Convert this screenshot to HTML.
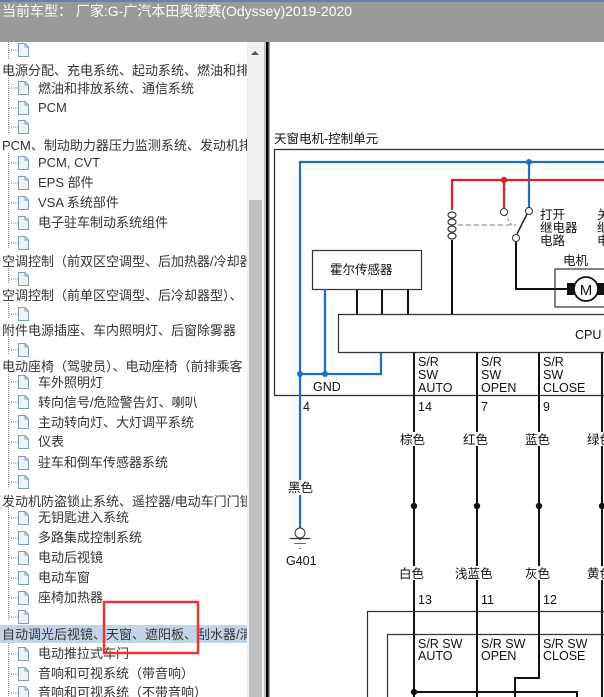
<!DOCTYPE html>
<html><head><meta charset="utf-8"><style>
html,body{margin:0;padding:0;width:604px;height:697px;overflow:hidden;background:#fff;}
svg{display:block;font-family:"Liberation Sans","Noto Sans CJK SC",sans-serif;}
.t{font-size:13px;fill:#333;}
.d{font-size:12.5px;fill:#111;}
</style></head><body>
<svg width="604" height="697" viewBox="0 0 604 697" xmlns="http://www.w3.org/2000/svg">
<defs>
<g id="ic"><path d="M0.5,0.5 H7 L10.5,4 V13.5 H0.5 Z" fill="#eef3fb" stroke="#7f9db9" stroke-width="1"/><path d="M7,0.5 V4 H10.5" fill="none" stroke="#7f9db9"/></g>
</defs>
<rect x="0" y="0" width="604" height="42" fill="#9a9a9a"/>
<rect x="0" y="0" width="604" height="2" fill="#6b7fa8"/>
<text x="2" y="16" font-size="14" fill="#fff">当前车型： 厂家:G-广汽本田奥德赛(Odyssey)2019-2020</text>
<rect x="0" y="42" width="247" height="655" fill="#fff"/>
<rect x="0" y="625" width="247" height="18" fill="#c2d3ea"/>
<g stroke="#888" stroke-dasharray="1,1">
<line x1="8.5" y1="42" x2="8.5" y2="60"/>
<line x1="8.5" y1="78" x2="8.5" y2="133"/>
<line x1="8.5" y1="153" x2="8.5" y2="248"/>
<line x1="8.5" y1="268" x2="8.5" y2="283"/>
<line x1="8.5" y1="303" x2="8.5" y2="318"/>
<line x1="8.5" y1="337" x2="8.5" y2="354"/>
<line x1="8.5" y1="374" x2="8.5" y2="487"/>
<line x1="8.5" y1="507" x2="8.5" y2="620"/>
<line x1="8.5" y1="643" x2="8.5" y2="697"/>
</g>
<g stroke="#888" stroke-dasharray="1,1">
<line x1="9" y1="50" x2="18" y2="50"/><line x1="9" y1="88" x2="18" y2="88"/><line x1="9" y1="108" x2="18" y2="108"/><line x1="9" y1="127" x2="18" y2="127"/>
<line x1="9" y1="163" x2="18" y2="163"/><line x1="9" y1="183" x2="18" y2="183"/><line x1="9" y1="203" x2="18" y2="203"/><line x1="9" y1="223" x2="18" y2="223"/><line x1="9" y1="243" x2="18" y2="243"/>
<line x1="9" y1="279" x2="18" y2="279"/><line x1="9" y1="314" x2="18" y2="314"/><line x1="9" y1="350" x2="18" y2="350"/>
<line x1="9" y1="382" x2="18" y2="382"/><line x1="9" y1="402" x2="18" y2="402"/><line x1="9" y1="422" x2="18" y2="422"/><line x1="9" y1="442" x2="18" y2="442"/><line x1="9" y1="463" x2="18" y2="463"/><line x1="9" y1="482" x2="18" y2="482"/>
<line x1="9" y1="518" x2="18" y2="518"/><line x1="9" y1="538" x2="18" y2="538"/><line x1="9" y1="558" x2="18" y2="558"/><line x1="9" y1="578" x2="18" y2="578"/><line x1="9" y1="598" x2="18" y2="598"/><line x1="9" y1="617" x2="18" y2="617"/>
<line x1="9" y1="654" x2="18" y2="654"/><line x1="9" y1="674" x2="18" y2="674"/><line x1="9" y1="693" x2="18" y2="693"/>
</g>
<g>
<use href="#ic" x="18" y="43"/><use href="#ic" x="18" y="81"/><use href="#ic" x="18" y="101"/><use href="#ic" x="18" y="120"/>
<use href="#ic" x="18" y="156"/><use href="#ic" x="18" y="176"/><use href="#ic" x="18" y="196"/><use href="#ic" x="18" y="216"/><use href="#ic" x="18" y="236"/>
<use href="#ic" x="18" y="272"/><use href="#ic" x="18" y="307"/><use href="#ic" x="18" y="343"/>
<use href="#ic" x="18" y="375"/><use href="#ic" x="18" y="395"/><use href="#ic" x="18" y="415"/><use href="#ic" x="18" y="435"/><use href="#ic" x="18" y="456"/><use href="#ic" x="18" y="475"/>
<use href="#ic" x="18" y="511"/><use href="#ic" x="18" y="531"/><use href="#ic" x="18" y="551"/><use href="#ic" x="18" y="571"/><use href="#ic" x="18" y="591"/><use href="#ic" x="18" y="610"/>
<use href="#ic" x="18" y="647"/><use href="#ic" x="18" y="667"/><use href="#ic" x="18" y="686"/>
</g>
<g class="t">
<text x="2" y="75">电源分配、充电系统、起动系统、燃油和排放</text>
<text x="38" y="93">燃油和排放系统、通信系统</text>
<text x="38" y="112">PCM</text>
<text x="2" y="150">PCM、制动助力器压力监测系统、发动机排放</text>
<text x="38" y="167">PCM, CVT</text>
<text x="38" y="187">EPS 部件</text>
<text x="38" y="207">VSA 系统部件</text>
<text x="38" y="227">电子驻车制动系统组件</text>
<text x="2" y="266">空调控制（前双区空调型、后加热器/冷却器型</text>
<text x="2" y="300">空调控制（前单区空调型、后冷却器型）、</text>
<text x="2" y="335">附件电源插座、车内照明灯、后窗除雾器</text>
<text x="2" y="371">电动座椅（驾驶员）、电动座椅（前排乘客</text>
<text x="38" y="387">车外照明灯</text>
<text x="38" y="407">转向信号/危险警告灯、喇叭</text>
<text x="38" y="427">主动转向灯、大灯调平系统</text>
<text x="38" y="446">仪表</text>
<text x="38" y="467">驻车和倒车传感器系统</text>
<text x="2" y="506">发动机防盗锁止系统、遥控器/电动车门门锁</text>
<text x="38" y="522">无钥匙进入系统</text>
<text x="38" y="542">多路集成控制系统</text>
<text x="38" y="562">电动后视镜</text>
<text x="38" y="582">电动车窗</text>
<text x="38" y="602">座椅加热器</text>
<text x="2" y="639">自动调光后视镜、天窗、遮阳板、刮水器/清洗器</text>
<text x="38" y="658">电动推拉式车门</text>
<text x="38" y="678">音响和可视系统（带音响）</text>
<text x="38" y="697">音响和可视系统（不带音响）</text>
</g>
<rect x="104" y="602" width="94" height="51" fill="none" stroke="#ee3333" stroke-width="2.5"/>
<rect x="247" y="42" width="17" height="655" fill="#f0f0f0"/>
<rect x="249" y="200" width="13" height="497" fill="#c1c1c1"/>
<path d="M251,55 L255,51 L259,55 Z" fill="#555"/>
<rect x="264" y="42" width="2" height="655" fill="#bfbfbf"/>
<rect x="266" y="42" width="2.5" height="655" fill="#000"/>
<rect x="268.5" y="42" width="1.5" height="655" fill="#a0a0a0"/>
<rect x="270" y="42" width="334" height="655" fill="#fff"/>
<text x="274" y="143" class="d" font-size="13">天窗电机-控制单元</text>
<rect x="274.5" y="149.5" width="340" height="246" fill="none" stroke="#333" stroke-width="1.3"/>
<g stroke="#1f6fbf" stroke-width="2.2" fill="none">
<polyline points="300,540 300,162 604,162"/>
<line x1="529" y1="162" x2="529" y2="208"/>
<polyline points="325,289 325,374 300,374"/>
<polyline points="381,352 381,374 325,374"/>
</g>
<circle cx="529" cy="162" r="3" fill="#1f6fbf"/>
<circle cx="300" cy="374" r="3" fill="#1f6fbf"/>
<circle cx="325" cy="374" r="3" fill="#1f6fbf"/>
<g stroke="#e01f2a" stroke-width="2.2" fill="none">
<polyline points="452,210 452,180 604,180"/>
<line x1="504" y1="180" x2="504" y2="208"/>
</g>
<circle cx="504" cy="180" r="3.2" fill="#e01f2a"/>
<g fill="none" stroke="#333" stroke-width="1.2">
<ellipse cx="452" cy="215" rx="4" ry="3"/><ellipse cx="452" cy="222" rx="4" ry="3"/><ellipse cx="452" cy="229" rx="4" ry="3"/><ellipse cx="452" cy="236" rx="4" ry="3"/>
</g>
<line x1="458" y1="225" x2="516" y2="225" stroke="#999" stroke-width="1.2" stroke-dasharray="5,3"/>
<line x1="505" y1="214" x2="512" y2="226" stroke="#999" stroke-width="1.2" stroke-dasharray="3,2"/>
<line x1="452" y1="240" x2="452" y2="314" stroke="#111" stroke-width="2"/>
<circle cx="504" cy="212" r="3.5" fill="#fff" stroke="#333"/>
<circle cx="529" cy="211" r="3.5" fill="#fff" stroke="#333"/>
<circle cx="516" cy="238" r="3.5" fill="#fff" stroke="#333"/>
<line x1="517" y1="234" x2="527" y2="214" stroke="#222" stroke-width="1.5"/>
<polyline points="516,242 516,289 568,289" fill="none" stroke="#111" stroke-width="2"/>
<text x="540" y="219" class="d">打开</text><text x="540" y="232" class="d">继电器</text><text x="540" y="245" class="d">电路</text>
<text x="597" y="219" class="d">关</text><text x="597" y="232" class="d">继</text><text x="597" y="245" class="d">电</text>
<text x="563" y="265" class="d">电机</text>
<rect x="555" y="269" width="60" height="38" fill="none" stroke="#333" stroke-width="1.2"/>
<rect x="567" y="283" width="8" height="12" fill="#111"/>
<rect x="597" y="283" width="8" height="12" fill="#111"/>
<circle cx="586" cy="289" r="12" fill="#fff" stroke="#111" stroke-width="1.8"/>
<text x="586" y="295" text-anchor="middle" font-size="15" fill="#111">M</text>
<rect x="312.5" y="250.5" width="109" height="39" fill="#fff" stroke="#333" stroke-width="1.2"/>
<text x="330" y="274" class="d">霍尔传感器</text>
<g stroke="#111" stroke-width="2"><line x1="357" y1="290" x2="357" y2="314"/><line x1="382" y1="290" x2="382" y2="314"/><line x1="408" y1="290" x2="408" y2="314"/></g>
<line x1="325" y1="289" x2="325" y2="374" stroke="#1f6fbf" stroke-width="2.2"/>
<polyline points="338.5,352 338.5,314.5 604,314.5" fill="none" stroke="#333" stroke-width="1.2"/>
<line x1="338" y1="352.5" x2="604" y2="352.5" stroke="#333" stroke-width="1.2"/>
<text x="575" y="339" class="d" font-size="13">CPU</text>
<text x="313" y="391" class="d">GND</text>
<g class="d">
<text x="418" y="366">S/R</text><text x="418" y="379">SW</text><text x="418" y="392">AUTO</text>
<text x="481" y="366">S/R</text><text x="481" y="379">SW</text><text x="481" y="392">OPEN</text>
<text x="543" y="366">S/R</text><text x="543" y="379">SW</text><text x="543" y="392">CLOSE</text>
<text x="303" y="411">4</text><text x="418" y="411">14</text><text x="481" y="411">7</text><text x="543" y="411">9</text>
</g>
<g stroke="#111" stroke-width="2">
<line x1="414" y1="352" x2="414" y2="697"/>
<line x1="477" y1="352" x2="477" y2="697"/>
<polyline points="539,352 539,678 515,678 515,697" fill="none"/>
<line x1="602" y1="352" x2="602" y2="697"/>
<polyline points="414,692 577,692 577,697" fill="none"/>
</g>
<g fill="#111"><circle cx="414" cy="506" r="3.2"/><circle cx="477" cy="506" r="3.2"/><circle cx="539" cy="506" r="3.2"/><circle cx="602" cy="506" r="3.2"/><circle cx="414" cy="692" r="3.2"/></g>
<g fill="#fff"><rect x="398" y="432" width="30" height="14"/><rect x="462" y="432" width="30" height="14"/><rect x="524" y="432" width="30" height="14"/><rect x="586" y="432" width="20" height="14"/>
<rect x="397" y="566" width="30" height="14"/><rect x="454" y="566" width="42" height="14"/><rect x="524" y="566" width="30" height="14"/><rect x="586" y="566" width="20" height="14"/>
<rect x="286" y="480" width="30" height="15"/></g>
<g class="d">
<text x="400" y="444">棕色</text><text x="463" y="444">红色</text><text x="525" y="444">蓝色</text><text x="587" y="444">绿色</text>
<text x="399" y="578">白色</text><text x="455" y="578">浅蓝色</text><text x="525" y="578">灰色</text><text x="587" y="578">黄色</text>
<text x="418" y="604">13</text><text x="481" y="604">11</text><text x="543" y="604">12</text>
<text x="288" y="492">黑色</text>
<text x="286" y="565">G401</text>
</g>
<circle cx="300" cy="533" r="5" fill="#fff" stroke="#333"/>
<line x1="290" y1="538.5" x2="310" y2="538.5" stroke="#333" stroke-width="1.3"/>
<line x1="294" y1="543.5" x2="306" y2="543.5" stroke="#666"/>
<line x1="299" y1="548.5" x2="301" y2="548.5" stroke="#888"/>
<polyline points="367.5,697 367.5,611.5 604,611.5" fill="none" stroke="#333" stroke-width="1.2"/>
<polyline points="387.5,697 387.5,634.5 604,634.5" fill="none" stroke="#333" stroke-width="1.2"/>
<g class="d">
<text x="418" y="648">S/R SW</text><text x="418" y="660">AUTO</text>
<text x="481" y="648">S/R SW</text><text x="481" y="660">OPEN</text>
<text x="543" y="648">S/R SW</text><text x="543" y="660">CLOSE</text>
</g>
</svg>
</body></html>
